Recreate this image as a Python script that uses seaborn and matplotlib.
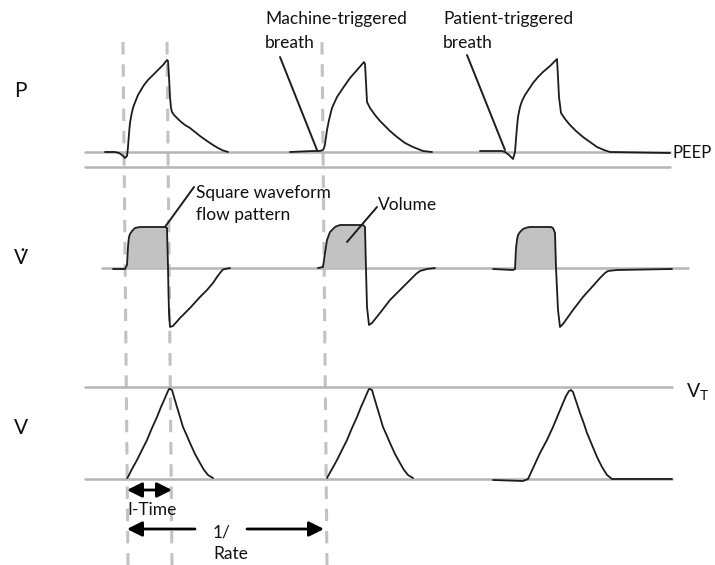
import matplotlib
matplotlib.use("Agg")
import matplotlib.pyplot as plt
import seaborn as sns
import numpy as np
import pandas as pd

# ---------------- data (time in px-like units, values = height above each panel baseline) ----
# Pressure, one list per breath
p_time_1 = [105, 115, 119, 122, 125, 127, 127.5, 128, 128.5, 129, 129.5, 130, 131, 132, 133, 134,
            136, 138, 141, 144, 148, 153, 158, 163, 167, 168, 169, 170, 171, 172, 174, 177, 180,
            185, 190, 195, 200, 207, 213, 218, 223, 228]
p_value_1 = [0, 0, -1, -3, -6, -4, 0, 5, 12, 18, 24, 29, 35, 40, 44, 47,
             52, 57, 62, 67, 72, 77, 82, 87, 92, 91, 75, 55, 44, 40, 37, 34, 31,
             27, 24, 20, 16, 11, 7, 4, 1.5, 0]
p_time_2 = [290, 313, 320, 323, 324, 325, 326, 327, 329, 332, 337, 343, 350, 357, 364, 365, 366,
            367, 370, 375, 380, 385, 390, 397, 405, 413, 423, 432]
p_value_2 = [0, 1, 1, 2, 4, 8, 15, 22, 32, 44, 55, 64, 74, 82, 90, 88, 70,
             50, 44, 37, 31, 26, 21, 15, 9, 5, 1, 0]
p_time_3 = [480, 502, 505, 509, 513, 515, 516, 517, 518, 520, 522, 525, 529, 533, 538, 543, 550,
            557, 558, 559, 561, 565, 570, 576, 583, 590, 597, 604, 610, 670]
p_value_3 = [1, 1, 0, -3, -7, 0, 13, 25, 35, 45, 51, 57, 63, 69, 75, 80, 86,
             93, 75, 55, 39, 33, 27, 21, 15, 10, 5, 2, 0, -1]

# Flow, one list per breath
f_time_1 = [113, 125, 127, 127.5, 128, 128.5, 129, 130, 132, 135, 140, 165, 167, 168, 168.5, 169,
            170, 173, 180, 190, 200, 207, 213, 217, 220, 223, 230]
f_value_1 = [-1, -1, 3, 12, 21, 27, 31, 34, 37, 40, 41, 41, 40, 1, -25, -45,
             -59, -58, -50, -40, -29, -22, -15, -9, -5, -1.5, 0]
f_time_2 = [318, 323, 325, 327, 330, 335, 340, 363, 365, 366, 367, 369, 372, 380, 390, 400, 410,
            416, 420, 427, 435]
f_value_2 = [0, 1, 15, 28, 36, 41, 43, 43, 41, -2, -39, -57, -55, -45, -32, -22, -12,
             -6, -3, -1, 0]
f_time_3 = [493, 513, 515, 516, 517, 518, 520, 523, 527, 530, 551, 553, 555, 556, 558, 560, 563,
            573, 583, 592, 600, 605, 608, 617, 672]
f_value_3 = [-1, -2, -1, 20, 28, 33, 36, 39, 40.5, 41, 41, 40, 35, 0, -42, -59, -56,
             -42, -29, -19, -10, -5, -3, -2, -1]

# Volume, one list per breath
v_time_1 = [127, 128, 132, 137, 142, 147, 152, 157, 161, 165, 168, 169, 170, 172, 174, 177, 180,
            183, 187, 190, 195, 200, 204, 208, 213]
v_value_1 = [1, 2, 10, 19, 29, 39, 51, 62, 72, 81, 88, 90, 90, 89, 82, 72, 62,
             52, 43, 36, 25, 16, 9, 4, 1]
v_time_2 = [327, 332, 337, 342, 347, 352, 357, 361, 365, 368, 369, 370, 372, 374, 377, 380, 383,
            387, 390, 395, 400, 404, 408, 413]
v_value_2 = [1, 10, 19, 29, 39, 51, 62, 72, 81, 88, 90, 90, 89, 82, 72, 62, 52,
             43, 36, 25, 16, 9, 4, 1]
v_time_3 = [493, 523, 528, 534, 540, 547, 553, 558, 563, 566, 569, 571, 573, 576, 580, 584, 587,
            592, 597, 602, 607, 612, 672]
v_value_3 = [-1, -2, 0, 13, 26, 39, 52, 64, 76, 83, 88, 89, 87, 78, 66, 55, 46,
             34, 22, 12, 4, 0, 0]

vt_level = 92               # tidal volume line height above V baseline
breath_start = [123, 322]   # dashed guides (1/Rate)
insp_end = [167]            # dashed guide (I-Time)

panel_labels = ["P", "V\u0307", "V"]

# ---------------- layout ----------------
W, H = 715, 565
P_BASE, F_BASE, V_BASE = 152, 268, 479

sns.set_theme(style="white")
plt.rcParams["font.family"] = ["Lato", "DejaVu Sans"]
plt.rcParams["lines.scale_dashes"] = False


def frame(times, values, base):
    rows = []
    for i, (t, v) in enumerate(zip(times, values)):
        for a, b in zip(t, v):
            rows.append({"t": a, "y": base - b, "breath": i})
    return pd.DataFrame(rows)


p_df = frame([p_time_1, p_time_2, p_time_3], [p_value_1, p_value_2, p_value_3], P_BASE)
f_df = frame([f_time_1, f_time_2, f_time_3], [f_value_1, f_value_2, f_value_3], F_BASE)
v_df = frame([v_time_1, v_time_2, v_time_3], [v_value_1, v_value_2, v_value_3], V_BASE)

fig = plt.figure(figsize=(W / 100, H / 100), dpi=100)
ax = fig.add_axes([0, 0, 1, 1])

grey = "#b5b5b5"
ink = "#1c1c1c"

# dashed vertical guides
for x0 in breath_start + insp_end:
    ax.plot([x0, x0 + 5], [42, 565], color="#c2c2c2", lw=2.2, dashes=(9, 7), zorder=1)

# baselines
ax.plot([85, 670], [P_BASE, P_BASE], color=grey, lw=1.8, zorder=2)
ax.plot([85, 670], [P_BASE + 15, P_BASE + 15], color=grey, lw=1.8, zorder=2)
ax.plot([102, 688], [F_BASE, F_BASE], color=grey, lw=1.8, zorder=2)
ax.plot([85, 672], [V_BASE - vt_level, V_BASE - vt_level], color=grey, lw=1.8, zorder=2)
ax.plot([85, 672], [V_BASE, V_BASE], color=grey, lw=1.8, zorder=2)

# flow fill (inspiratory volume)
for ft, fv in [(f_time_1, f_value_1), (f_time_2, f_value_2), (f_time_3, f_value_3)]:
    ft = np.array(ft, float)
    fv = np.array(fv, float)
    ax.fill_between(ft, F_BASE - np.clip(fv, 0, None), F_BASE, color="#c2c2c2", lw=0, zorder=2.5)

# traces
for df in (p_df, f_df, v_df):
    sns.lineplot(data=df, x="t", y="y", units="breath", sort=False, estimator=None,
                 color=ink, lw=1.3, ax=ax, zorder=3, legend=False)

ax.set_xlim(0, W)
ax.set_ylim(H, 0)
ax.axis("off")

# panel labels
lab_fs = 15
ax.text(14, 91, panel_labels[0], fontsize=lab_fs, va="center", ha="left", color="#111")
ax.text(14, 258, panel_labels[1], fontsize=lab_fs, va="center", ha="left", color="#111")
ax.text(14, 428, panel_labels[2], fontsize=lab_fs, va="center", ha="left", color="#111")

fs = 12.5
ax.text(673, P_BASE + 1, "PEEP", fontsize=fs - 0.5, va="center", ha="left", color="#111")
ax.text(686, 392, r"$\mathregular{V_T}$", fontsize=14, va="center", ha="left", color="#111")

# annotations
ax.text(265, 19, "Machine-triggered", fontsize=fs, va="center", ha="left", color="#111")
ax.text(265, 43, "breath", fontsize=fs, va="center", ha="left", color="#111")
ax.plot([280, 317], [57, 150], color=ink, lw=1.4, zorder=4)

ax.text(443, 19, "Patient-triggered", fontsize=fs, va="center", ha="left", color="#111")
ax.text(443, 43, "breath", fontsize=fs, va="center", ha="left", color="#111")
ax.plot([467, 505], [55, 150], color=ink, lw=1.4, zorder=4)

ax.text(196, 193, "Square waveform", fontsize=fs, va="center", ha="left", color="#111")
ax.text(196, 215, "flow pattern", fontsize=fs, va="center", ha="left", color="#111")
ax.plot([165, 194], [227, 187], color=ink, lw=1.4, zorder=4)

ax.text(378, 205, "Volume", fontsize=fs, va="center", ha="left", color="#111")
ax.plot([347, 377], [242, 207], color=ink, lw=1.4, zorder=4)

# time arrows
astyle = "-|>,head_length=0.6,head_width=0.3"
ax.annotate("", xy=(127, 490), xytext=(172, 490),
            arrowprops=dict(arrowstyle="<|-|>,head_length=0.6,head_width=0.3",
                            color="black", lw=2, mutation_scale=15, shrinkA=0, shrinkB=0))
ax.text(127, 510, "I-Time", fontsize=fs, va="center", ha="left", color="#111")

ax.annotate("", xy=(127, 529), xytext=(195, 529),
            arrowprops=dict(arrowstyle=astyle, color="black", lw=2, mutation_scale=15,
                            shrinkA=0, shrinkB=0))
ax.annotate("", xy=(324, 529), xytext=(247, 529),
            arrowprops=dict(arrowstyle=astyle, color="black", lw=2, mutation_scale=15,
                            shrinkA=0, shrinkB=0))
ax.text(213, 532, "1/", fontsize=fs, va="center", ha="left", color="#111")
ax.text(213, 554, "Rate", fontsize=fs, va="center", ha="left", color="#111")

fig.savefig("out.png", dpi=100, facecolor="white")
